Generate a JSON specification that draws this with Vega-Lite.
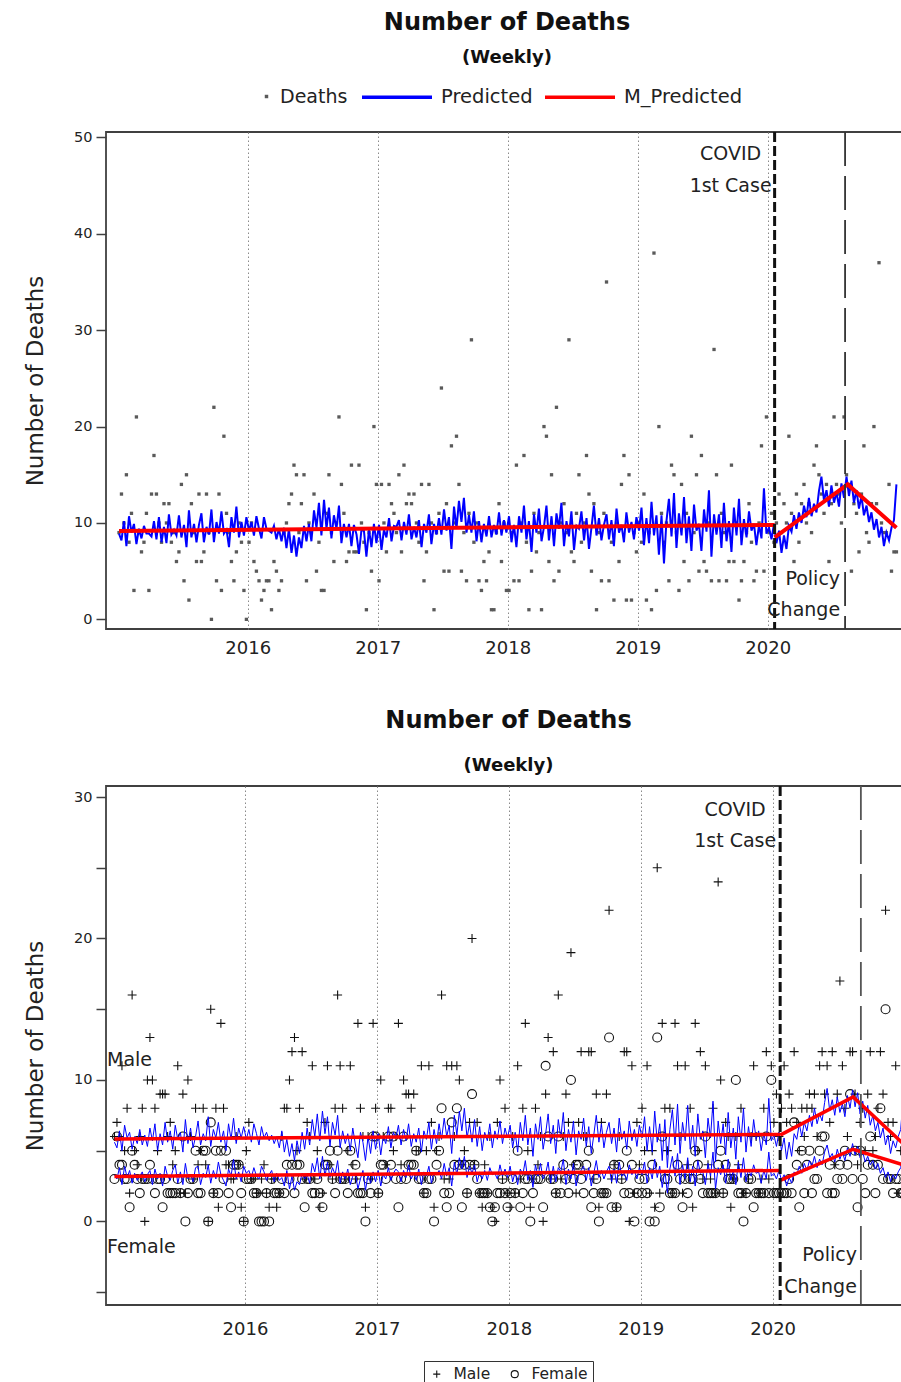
{
"$schema":"https://vega.github.io/schema/vega-lite/v6.json",
"padding":{"left":23,"top":10,"right":0,"bottom":0},
"background":"white",
"spacing":49,
"config":{"font":"DejaVu Sans","view":{"stroke":"#404040","strokeWidth":1.8},"axis":{"domain":false,"labelColor":"#222","titleColor":"#222","tickColor":"#404040"}},
"datasets":{
"w":[
{"t":2015.010,"d":9,"Male":6,"Female":3,"p":8.9,"pm":5.6,"pf":3.3},
{"t":2015.029,"d":13,"Male":7,"Female":6,"p":8.2,"pm":5.2,"pf":3.0},
{"t":2015.048,"d":10,"Male":6,"Female":4,"p":10.2,"pm":6.4,"pf":3.8},
{"t":2015.067,"d":15,"Male":11,"Female":4,"p":7.6,"pm":5.0,"pf":2.6},
{"t":2015.087,"d":8,"Male":5,"Female":3,"p":10.7,"pm":6.8,"pf":3.9},
{"t":2015.106,"d":11,"Male":8,"Female":3,"p":9.0,"pm":5.9,"pf":3.1},
{"t":2015.125,"d":3,"Male":2,"Female":1,"p":9.9,"pm":6.3,"pf":3.6},
{"t":2015.144,"d":21,"Male":16,"Female":5,"p":7.8,"pm":5.1,"pf":2.7},
{"t":2015.163,"d":9,"Male":5,"Female":4,"p":9.4,"pm":6.0,"pf":3.4},
{"t":2015.183,"d":7,"Male":4,"Female":3,"p":8.4,"pm":5.5,"pf":2.9},
{"t":2015.202,"d":8,"Male":6,"Female":2,"p":9.7,"pm":6.5,"pf":3.2},
{"t":2015.221,"d":11,"Male":8,"Female":3,"p":8.9,"pm":5.4,"pf":3.5},
{"t":2015.240,"d":3,"Male":0,"Female":3,"p":8.9,"pm":6.1,"pf":2.8},
{"t":2015.260,"d":13,"Male":10,"Female":3,"p":8.6,"pm":5.3,"pf":3.3},
{"t":2015.279,"d":17,"Male":13,"Female":4,"p":10.2,"pm":6.6,"pf":3.6},
{"t":2015.298,"d":13,"Male":10,"Female":3,"p":8.3,"pm":5.7,"pf":2.6},
{"t":2015.317,"d":10,"Male":8,"Female":2,"p":10.6,"pm":6.9,"pf":3.7},
{"t":2015.337,"d":8,"Male":5,"Female":3,"p":8.0,"pm":5.0,"pf":3.0},
{"t":2015.356,"d":12,"Male":9,"Female":3,"p":9.6,"pm":6.2,"pf":3.4},
{"t":2015.375,"d":10,"Male":9,"Female":1,"p":7.9,"pm":5.4,"pf":2.5},
{"t":2015.394,"d":12,"Male":9,"Female":3,"p":10.9,"pm":7.0,"pf":3.9},
{"t":2015.413,"d":8,"Male":6,"Female":2,"p":8.8,"pm":5.6,"pf":3.2},
{"t":2015.433,"d":9,"Male":7,"Female":2,"p":9.3,"pm":6.4,"pf":2.9},
{"t":2015.452,"d":6,"Male":4,"Female":2,"p":8.7,"pm":5.1,"pf":3.6},
{"t":2015.471,"d":7,"Male":5,"Female":2,"p":10.8,"pm":6.8,"pf":4.0},
{"t":2015.490,"d":14,"Male":11,"Female":3,"p":8.5,"pm":5.8,"pf":2.7},
{"t":2015.510,"d":4,"Male":2,"Female":2,"p":9.8,"pm":6.3,"pf":3.5},
{"t":2015.529,"d":15,"Male":9,"Female":6,"p":7.5,"pm":4.9,"pf":2.6},
{"t":2015.548,"d":2,"Male":2,"Female":0,"p":11.3,"pm":7.2,"pf":4.1},
{"t":2015.567,"d":12,"Male":10,"Female":2,"p":8.5,"pm":5.5,"pf":3.0},
{"t":2015.587,"d":9,"Male":6,"Female":3,"p":9.9,"pm":6.6,"pf":3.3},
{"t":2015.606,"d":6,"Male":3,"Female":3,"p":8.0,"pm":5.2,"pf":2.8},
{"t":2015.625,"d":13,"Male":8,"Female":5,"p":9.8,"pm":6.0,"pf":3.8},
{"t":2015.644,"d":6,"Male":4,"Female":2,"p":11.0,"pm":7.1,"pf":3.9},
{"t":2015.663,"d":7,"Male":5,"Female":2,"p":8.0,"pm":5.4,"pf":2.6},
{"t":2015.683,"d":13,"Male":8,"Female":5,"p":9.6,"pm":6.2,"pf":3.4},
{"t":2015.702,"d":9,"Male":4,"Female":5,"p":8.8,"pm":5.7,"pf":3.1},
{"t":2015.721,"d":0,"Male":0,"Female":0,"p":11.4,"pm":7.4,"pf":4.0},
{"t":2015.740,"d":22,"Male":15,"Female":7,"p":8.0,"pm":5.3,"pf":2.7},
{"t":2015.760,"d":4,"Male":2,"Female":2,"p":10.1,"pm":6.5,"pf":3.6},
{"t":2015.779,"d":13,"Male":8,"Female":5,"p":8.9,"pm":5.9,"pf":3.0},
{"t":2015.798,"d":3,"Male":1,"Female":2,"p":11.2,"pm":7.0,"pf":4.2},
{"t":2015.817,"d":19,"Male":14,"Female":5,"p":8.9,"pm":5.6,"pf":3.3},
{"t":2015.837,"d":11,"Male":8,"Female":3,"p":9.3,"pm":6.4,"pf":2.9},
{"t":2015.856,"d":9,"Male":4,"Female":5,"p":7.5,"pm":5.0,"pf":2.5},
{"t":2015.875,"d":6,"Male":4,"Female":2,"p":10.6,"pm":6.9,"pf":3.7},
{"t":2015.894,"d":4,"Male":3,"Female":1,"p":9.0,"pm":5.8,"pf":3.2},
{"t":2015.913,"d":7,"Male":3,"Female":4,"p":11.7,"pm":7.3,"pf":4.4},
{"t":2015.933,"d":10,"Male":6,"Female":4,"p":8.5,"pm":5.5,"pf":3.0},
{"t":2015.952,"d":8,"Male":4,"Female":4,"p":10.1,"pm":6.6,"pf":3.5},
{"t":2015.971,"d":3,"Male":1,"Female":2,"p":8.7,"pm":5.9,"pf":2.8},
{"t":2015.990,"d":0,"Male":0,"Female":0,"p":10.6,"pm":6.7,"pf":3.9},
{"t":2016.010,"d":8,"Male":5,"Female":3,"p":9.2,"pm":5.8,"pf":3.4},
{"t":2016.029,"d":10,"Male":7,"Female":3,"p":10.1,"pm":6.5,"pf":3.6},
{"t":2016.048,"d":6,"Male":3,"Female":3,"p":8.7,"pm":5.6,"pf":3.1},
{"t":2016.067,"d":5,"Male":3,"Female":2,"p":10.7,"pm":6.9,"pf":3.8},
{"t":2016.087,"d":4,"Male":2,"Female":2,"p":9.4,"pm":6.2,"pf":3.2},
{"t":2016.106,"d":2,"Male":2,"Female":0,"p":8.4,"pm":5.4,"pf":3.0},
{"t":2016.125,"d":3,"Male":3,"Female":0,"p":10.6,"pm":6.7,"pf":3.9},
{"t":2016.144,"d":4,"Male":4,"Female":0,"p":9.4,"pm":5.9,"pf":3.5},
{"t":2016.163,"d":4,"Male":2,"Female":2,"p":9.2,"pm":6.3,"pf":2.9},
{"t":2016.183,"d":1,"Male":1,"Female":0,"p":9.0,"pm":5.7,"pf":3.3},
{"t":2016.202,"d":6,"Male":3,"Female":3,"p":9.7,"pm":6.1,"pf":3.6},
{"t":2016.221,"d":5,"Male":3,"Female":2,"p":8.3,"pm":5.5,"pf":2.8},
{"t":2016.240,"d":3,"Male":1,"Female":2,"p":9.4,"pm":6.0,"pf":3.4},
{"t":2016.260,"d":4,"Male":2,"Female":2,"p":8.1,"pm":5.2,"pf":2.9},
{"t":2016.279,"d":9,"Male":6,"Female":3,"p":9.5,"pm":6.4,"pf":3.1},
{"t":2016.298,"d":10,"Male":8,"Female":2,"p":7.4,"pm":4.9,"pf":2.5},
{"t":2016.317,"d":12,"Male":8,"Female":4,"p":9.4,"pm":5.8,"pf":3.6},
{"t":2016.337,"d":13,"Male":10,"Female":3,"p":6.9,"pm":4.6,"pf":2.3},
{"t":2016.356,"d":16,"Male":12,"Female":4,"p":8.7,"pm":5.5,"pf":3.2},
{"t":2016.375,"d":15,"Male":13,"Female":2,"p":6.5,"pm":4.3,"pf":2.2},
{"t":2016.394,"d":9,"Male":5,"Female":4,"p":8.5,"pm":5.7,"pf":2.8},
{"t":2016.413,"d":12,"Male":8,"Female":4,"p":7.4,"pm":4.8,"pf":2.6},
{"t":2016.433,"d":15,"Male":12,"Female":3,"p":9.7,"pm":6.3,"pf":3.4},
{"t":2016.452,"d":4,"Male":3,"Female":1,"p":8.1,"pm":5.1,"pf":3.0},
{"t":2016.471,"d":10,"Male":7,"Female":3,"p":9.9,"pm":6.6,"pf":3.3},
{"t":2016.490,"d":9,"Male":6,"Female":3,"p":8.1,"pm":5.4,"pf":2.7},
{"t":2016.510,"d":13,"Male":11,"Female":2,"p":11.3,"pm":7.2,"pf":4.1},
{"t":2016.529,"d":5,"Male":3,"Female":2,"p":9.5,"pm":6.0,"pf":3.5},
{"t":2016.548,"d":8,"Male":5,"Female":3,"p":12.1,"pm":7.6,"pf":4.5},
{"t":2016.567,"d":3,"Male":1,"Female":2,"p":8.7,"pm":5.7,"pf":3.0},
{"t":2016.587,"d":3,"Male":2,"Female":1,"p":12.4,"pm":7.8,"pf":4.6},
{"t":2016.606,"d":11,"Male":7,"Female":4,"p":9.4,"pm":6.2,"pf":3.2},
{"t":2016.625,"d":15,"Male":11,"Female":4,"p":11.6,"pm":7.4,"pf":4.2},
{"t":2016.644,"d":9,"Male":4,"Female":5,"p":8.4,"pm":5.3,"pf":3.1},
{"t":2016.663,"d":6,"Male":3,"Female":3,"p":10.8,"pm":7.0,"pf":3.8},
{"t":2016.683,"d":10,"Male":8,"Female":2,"p":9.4,"pm":6.1,"pf":3.3},
{"t":2016.702,"d":21,"Male":16,"Female":5,"p":11.8,"pm":7.5,"pf":4.3},
{"t":2016.721,"d":14,"Male":11,"Female":3,"p":7.9,"pm":5.2,"pf":2.7},
{"t":2016.740,"d":11,"Male":8,"Female":3,"p":9.9,"pm":6.4,"pf":3.5},
{"t":2016.760,"d":6,"Male":3,"Female":3,"p":8.5,"pm":5.5,"pf":3.0},
{"t":2016.779,"d":7,"Male":5,"Female":2,"p":9.9,"pm":6.2,"pf":3.7},
{"t":2016.798,"d":16,"Male":11,"Female":5,"p":7.6,"pm":5.0,"pf":2.6},
{"t":2016.817,"d":7,"Male":4,"Female":3,"p":9.8,"pm":6.6,"pf":3.2},
{"t":2016.837,"d":7,"Male":3,"Female":4,"p":8.8,"pm":5.4,"pf":3.4},
{"t":2016.856,"d":16,"Male":14,"Female":2,"p":6.8,"pm":4.5,"pf":2.3},
{"t":2016.875,"d":10,"Male":8,"Female":2,"p":9.3,"pm":6.3,"pf":3.0},
{"t":2016.894,"d":8,"Male":6,"Female":2,"p":9.2,"pm":5.6,"pf":3.6},
{"t":2016.913,"d":1,"Male":1,"Female":0,"p":6.5,"pm":4.3,"pf":2.2},
{"t":2016.933,"d":9,"Male":6,"Female":3,"p":9.3,"pm":6.0,"pf":3.3},
{"t":2016.952,"d":5,"Male":3,"Female":2,"p":7.5,"pm":4.8,"pf":2.7},
{"t":2016.971,"d":20,"Male":14,"Female":6,"p":9.9,"pm":6.4,"pf":3.5},
{"t":2016.990,"d":14,"Male":8,"Female":6,"p":7.9,"pm":5.1,"pf":2.8},
{"t":2017.010,"d":4,"Male":2,"Female":2,"p":9.8,"pm":6.2,"pf":3.6},
{"t":2017.029,"d":14,"Male":10,"Female":4,"p":7.2,"pm":4.7,"pf":2.5},
{"t":2017.048,"d":10,"Male":6,"Female":4,"p":9.3,"pm":6.0,"pf":3.3},
{"t":2017.067,"d":7,"Male":4,"Female":3,"p":8.5,"pm":5.5,"pf":3.0},
{"t":2017.087,"d":14,"Male":8,"Female":6,"p":10.5,"pm":6.7,"pf":3.8},
{"t":2017.106,"d":12,"Male":8,"Female":4,"p":8.1,"pm":5.2,"pf":2.9},
{"t":2017.125,"d":11,"Male":5,"Female":6,"p":9.7,"pm":6.3,"pf":3.4},
{"t":2017.144,"d":9,"Male":6,"Female":3,"p":9.6,"pm":5.9,"pf":3.7},
{"t":2017.163,"d":15,"Male":14,"Female":1,"p":10.3,"pm":6.8,"pf":3.5},
{"t":2017.183,"d":7,"Male":4,"Female":3,"p":8.2,"pm":5.4,"pf":2.8},
{"t":2017.202,"d":16,"Male":10,"Female":6,"p":10.1,"pm":6.5,"pf":3.6},
{"t":2017.221,"d":12,"Male":9,"Female":3,"p":8.8,"pm":5.7,"pf":3.1},
{"t":2017.240,"d":13,"Male":9,"Female":4,"p":10.9,"pm":6.9,"pf":4.0},
{"t":2017.260,"d":12,"Male":8,"Female":4,"p":8.3,"pm":5.3,"pf":3.0},
{"t":2017.279,"d":13,"Male":9,"Female":4,"p":9.6,"pm":6.2,"pf":3.4},
{"t":2017.298,"d":10,"Male":5,"Female":5,"p":8.5,"pm":5.6,"pf":2.9},
{"t":2017.317,"d":8,"Male":5,"Female":3,"p":10.3,"pm":6.6,"pf":3.7},
{"t":2017.337,"d":14,"Male":11,"Female":3,"p":7.5,"pm":4.9,"pf":2.6},
{"t":2017.356,"d":4,"Male":2,"Female":2,"p":9.9,"pm":6.4,"pf":3.5},
{"t":2017.375,"d":7,"Male":5,"Female":2,"p":9.0,"pm":5.8,"pf":3.2},
{"t":2017.394,"d":14,"Male":11,"Female":3,"p":10.9,"pm":7.0,"pf":3.9},
{"t":2017.413,"d":10,"Male":7,"Female":3,"p":7.8,"pm":5.1,"pf":2.7},
{"t":2017.433,"d":1,"Male":1,"Female":0,"p":9.9,"pm":6.5,"pf":3.4},
{"t":2017.452,"d":9,"Male":5,"Female":4,"p":8.8,"pm":5.5,"pf":3.3},
{"t":2017.471,"d":11,"Male":6,"Female":5,"p":10.5,"pm":6.9,"pf":3.6},
{"t":2017.490,"d":24,"Male":16,"Female":8,"p":8.8,"pm":5.8,"pf":3.0},
{"t":2017.510,"d":5,"Male":3,"Female":2,"p":11.4,"pm":7.3,"pf":4.1},
{"t":2017.529,"d":12,"Male":11,"Female":1,"p":9.2,"pm":6.0,"pf":3.2},
{"t":2017.548,"d":5,"Male":3,"Female":2,"p":10.6,"pm":6.8,"pf":3.8},
{"t":2017.567,"d":18,"Male":11,"Female":7,"p":7.3,"pm":4.8,"pf":2.5},
{"t":2017.587,"d":10,"Male":6,"Female":4,"p":11.7,"pm":7.5,"pf":4.2},
{"t":2017.606,"d":19,"Male":11,"Female":8,"p":9.4,"pm":6.1,"pf":3.3},
{"t":2017.625,"d":14,"Male":10,"Female":4,"p":12.3,"pm":7.8,"pf":4.5},
{"t":2017.644,"d":5,"Male":4,"Female":1,"p":10.1,"pm":6.4,"pf":3.7},
{"t":2017.663,"d":9,"Male":5,"Female":4,"p":12.6,"pm":8.0,"pf":4.6},
{"t":2017.683,"d":4,"Male":2,"Female":2,"p":9.0,"pm":5.9,"pf":3.1},
{"t":2017.702,"d":11,"Male":7,"Female":4,"p":10.8,"pm":6.9,"pf":3.9},
{"t":2017.721,"d":29,"Male":20,"Female":9,"p":9.0,"pm":5.6,"pf":3.4},
{"t":2017.740,"d":8,"Male":4,"Female":4,"p":11.2,"pm":7.2,"pf":4.0},
{"t":2017.760,"d":10,"Male":7,"Female":3,"p":8.1,"pm":5.3,"pf":2.8},
{"t":2017.779,"d":4,"Male":2,"Female":2,"p":10.2,"pm":6.7,"pf":3.5},
{"t":2017.798,"d":3,"Male":1,"Female":2,"p":8.0,"pm":5.0,"pf":3.0},
{"t":2017.817,"d":6,"Male":4,"Female":2,"p":9.9,"pm":6.3,"pf":3.6},
{"t":2017.837,"d":4,"Male":2,"Female":2,"p":8.6,"pm":5.7,"pf":2.9},
{"t":2017.856,"d":7,"Male":6,"Female":1,"p":10.7,"pm":6.9,"pf":3.8},
{"t":2017.875,"d":1,"Male":1,"Female":0,"p":8.5,"pm":5.2,"pf":3.3},
{"t":2017.894,"d":1,"Male":0,"Female":1,"p":9.8,"pm":6.4,"pf":3.4},
{"t":2017.913,"d":9,"Male":7,"Female":2,"p":8.8,"pm":5.8,"pf":3.0},
{"t":2017.933,"d":12,"Male":10,"Female":2,"p":11.1,"pm":7.1,"pf":4.0},
{"t":2017.952,"d":6,"Male":3,"Female":3,"p":8.7,"pm":5.5,"pf":3.2},
{"t":2017.971,"d":10,"Male":8,"Female":2,"p":10.3,"pm":6.6,"pf":3.7},
{"t":2017.990,"d":3,"Male":2,"Female":1,"p":9.0,"pm":5.9,"pf":3.1},
{"t":2018.010,"d":3,"Male":1,"Female":2,"p":10.7,"pm":6.8,"pf":3.9},
{"t":2018.029,"d":9,"Male":6,"Female":3,"p":8.0,"pm":5.2,"pf":2.8},
{"t":2018.048,"d":4,"Male":2,"Female":2,"p":9.8,"pm":6.3,"pf":3.5},
{"t":2018.067,"d":16,"Male":11,"Female":5,"p":7.5,"pm":4.9,"pf":2.6},
{"t":2018.087,"d":4,"Male":3,"Female":1,"p":10.7,"pm":7.0,"pf":3.7},
{"t":2018.106,"d":10,"Male":8,"Female":2,"p":9.0,"pm":5.7,"pf":3.3},
{"t":2018.125,"d":17,"Male":14,"Female":3,"p":11.8,"pm":7.5,"pf":4.3},
{"t":2018.144,"d":8,"Male":5,"Female":3,"p":8.3,"pm":5.4,"pf":2.9},
{"t":2018.163,"d":1,"Male":1,"Female":0,"p":10.2,"pm":6.6,"pf":3.6},
{"t":2018.183,"d":5,"Male":3,"Female":2,"p":7.0,"pm":4.6,"pf":2.4},
{"t":2018.202,"d":11,"Male":8,"Female":3,"p":10.9,"pm":6.9,"pf":4.0},
{"t":2018.221,"d":7,"Male":4,"Female":3,"p":9.0,"pm":5.8,"pf":3.2},
{"t":2018.240,"d":9,"Male":6,"Female":3,"p":11.5,"pm":7.4,"pf":4.1},
{"t":2018.260,"d":1,"Male":0,"Female":1,"p":8.1,"pm":5.1,"pf":3.0},
{"t":2018.279,"d":20,"Male":9,"Female":11,"p":9.6,"pm":6.2,"pf":3.4},
{"t":2018.298,"d":19,"Male":13,"Female":6,"p":11.8,"pm":7.6,"pf":4.2},
{"t":2018.317,"d":6,"Male":3,"Female":3,"p":8.2,"pm":5.5,"pf":2.7},
{"t":2018.337,"d":15,"Male":12,"Female":3,"p":10.7,"pm":6.8,"pf":3.9},
{"t":2018.356,"d":4,"Male":2,"Female":2,"p":7.6,"pm":4.8,"pf":2.8},
{"t":2018.375,"d":22,"Male":16,"Female":6,"p":11.0,"pm":7.2,"pf":3.8},
{"t":2018.394,"d":5,"Male":3,"Female":2,"p":9.4,"pm":5.9,"pf":3.5},
{"t":2018.413,"d":10,"Male":6,"Female":4,"p":12.1,"pm":7.7,"pf":4.4},
{"t":2018.433,"d":12,"Male":9,"Female":3,"p":7.6,"pm":5.0,"pf":2.6},
{"t":2018.452,"d":9,"Male":7,"Female":2,"p":10.2,"pm":6.5,"pf":3.7},
{"t":2018.471,"d":29,"Male":19,"Female":10,"p":8.6,"pm":5.6,"pf":3.0},
{"t":2018.490,"d":7,"Male":4,"Female":3,"p":11.2,"pm":7.1,"pf":4.1},
{"t":2018.510,"d":6,"Male":2,"Female":4,"p":7.2,"pm":4.7,"pf":2.5},
{"t":2018.529,"d":11,"Male":7,"Female":4,"p":9.7,"pm":6.4,"pf":3.3},
{"t":2018.548,"d":15,"Male":12,"Female":3,"p":9.4,"pm":5.8,"pf":3.6},
{"t":2018.567,"d":8,"Male":6,"Female":2,"p":11.2,"pm":7.3,"pf":3.9},
{"t":2018.587,"d":10,"Male":6,"Female":4,"p":8.2,"pm":5.3,"pf":2.9},
{"t":2018.606,"d":17,"Male":12,"Female":5,"p":10.5,"pm":6.7,"pf":3.8},
{"t":2018.625,"d":13,"Male":12,"Female":1,"p":7.3,"pm":4.8,"pf":2.5},
{"t":2018.644,"d":5,"Male":3,"Female":2,"p":9.5,"pm":6.1,"pf":3.4},
{"t":2018.663,"d":12,"Male":9,"Female":3,"p":11.8,"pm":7.5,"pf":4.3},
{"t":2018.683,"d":1,"Male":1,"Female":0,"p":8.7,"pm":5.6,"pf":3.1},
{"t":2018.702,"d":9,"Male":7,"Female":2,"p":10.5,"pm":6.9,"pf":3.6},
{"t":2018.721,"d":4,"Male":2,"Female":2,"p":8.2,"pm":5.2,"pf":3.0},
{"t":2018.740,"d":11,"Male":9,"Female":2,"p":9.8,"pm":6.3,"pf":3.5},
{"t":2018.760,"d":35,"Male":22,"Female":13,"p":10.9,"pm":7.0,"pf":3.9},
{"t":2018.779,"d":4,"Male":3,"Female":1,"p":8.3,"pm":5.5,"pf":2.8},
{"t":2018.798,"d":8,"Male":4,"Female":4,"p":10.3,"pm":6.6,"pf":3.7},
{"t":2018.817,"d":2,"Male":1,"Female":1,"p":7.6,"pm":4.9,"pf":2.7},
{"t":2018.837,"d":10,"Male":6,"Female":4,"p":11.5,"pm":7.3,"pf":4.2},
{"t":2018.856,"d":6,"Male":3,"Female":3,"p":9.0,"pm":5.8,"pf":3.2},
{"t":2018.875,"d":14,"Male":12,"Female":2,"p":9.8,"pm":6.4,"pf":3.4},
{"t":2018.894,"d":17,"Male":12,"Female":5,"p":8.0,"pm":5.1,"pf":2.9},
{"t":2018.913,"d":2,"Male":0,"Female":2,"p":11.1,"pm":7.1,"pf":4.0},
{"t":2018.933,"d":15,"Male":11,"Female":4,"p":9.0,"pm":5.7,"pf":3.3},
{"t":2018.952,"d":2,"Male":2,"Female":0,"p":10.1,"pm":6.5,"pf":3.6},
{"t":2018.971,"d":9,"Male":7,"Female":2,"p":8.3,"pm":5.3,"pf":3.0},
{"t":2018.990,"d":7,"Male":4,"Female":3,"p":10.6,"pm":6.8,"pf":3.8},
{"t":2019.010,"d":10,"Male":8,"Female":2,"p":9.2,"pm":5.9,"pf":3.3},
{"t":2019.029,"d":8,"Male":5,"Female":3,"p":11.6,"pm":7.4,"pf":4.2},
{"t":2019.048,"d":13,"Male":11,"Female":2,"p":7.7,"pm":5.0,"pf":2.7},
{"t":2019.067,"d":2,"Male":2,"Female":0,"p":10.5,"pm":6.7,"pf":3.8},
{"t":2019.087,"d":9,"Male":5,"Female":4,"p":7.9,"pm":4.9,"pf":3.0},
{"t":2019.106,"d":1,"Male":1,"Female":0,"p":12.2,"pm":7.8,"pf":4.4},
{"t":2019.125,"d":38,"Male":25,"Female":13,"p":8.7,"pm":5.6,"pf":3.1},
{"t":2019.144,"d":3,"Male":2,"Female":1,"p":10.8,"pm":6.9,"pf":3.9},
{"t":2019.163,"d":20,"Male":14,"Female":6,"p":6.7,"pm":4.3,"pf":2.4},
{"t":2019.183,"d":11,"Male":8,"Female":3,"p":10.8,"pm":7.2,"pf":3.6},
{"t":2019.202,"d":8,"Male":5,"Female":3,"p":5.8,"pm":3.8,"pf":2.0},
{"t":2019.221,"d":10,"Male":8,"Female":2,"p":10.2,"pm":6.5,"pf":3.7},
{"t":2019.240,"d":4,"Male":2,"Female":2,"p":12.5,"pm":7.9,"pf":4.6},
{"t":2019.260,"d":16,"Male":14,"Female":2,"p":8.6,"pm":5.4,"pf":3.2},
{"t":2019.279,"d":15,"Male":11,"Female":4,"p":13.1,"pm":8.3,"pf":4.8},
{"t":2019.298,"d":9,"Male":6,"Female":3,"p":7.4,"pm":4.8,"pf":2.6},
{"t":2019.317,"d":3,"Male":2,"Female":1,"p":11.0,"pm":7.0,"pf":4.0},
{"t":2019.337,"d":14,"Male":11,"Female":3,"p":8.7,"pm":5.7,"pf":3.0},
{"t":2019.356,"d":6,"Male":4,"Female":2,"p":12.7,"pm":8.2,"pf":4.5},
{"t":2019.375,"d":11,"Male":8,"Female":3,"p":7.9,"pm":5.1,"pf":2.8},
{"t":2019.394,"d":4,"Male":1,"Female":3,"p":10.7,"pm":6.8,"pf":3.9},
{"t":2019.413,"d":19,"Male":14,"Female":5,"p":7.1,"pm":4.6,"pf":2.5},
{"t":2019.433,"d":9,"Male":5,"Female":4,"p":11.9,"pm":7.6,"pf":4.3},
{"t":2019.452,"d":15,"Male":12,"Female":3,"p":9.2,"pm":5.8,"pf":3.4},
{"t":2019.471,"d":5,"Male":3,"Female":2,"p":9.9,"pm":6.4,"pf":3.5},
{"t":2019.490,"d":17,"Male":11,"Female":6,"p":7.1,"pm":4.5,"pf":2.6},
{"t":2019.510,"d":6,"Male":4,"Female":2,"p":11.4,"pm":7.3,"pf":4.1},
{"t":2019.529,"d":5,"Male":3,"Female":2,"p":9.1,"pm":5.9,"pf":3.2},
{"t":2019.548,"d":10,"Male":8,"Female":2,"p":13.4,"pm":8.5,"pf":4.9},
{"t":2019.567,"d":4,"Male":2,"Female":2,"p":6.5,"pm":4.2,"pf":2.3},
{"t":2019.587,"d":28,"Male":24,"Female":4,"p":10.9,"pm":7.1,"pf":3.8},
{"t":2019.606,"d":15,"Male":10,"Female":5,"p":8.8,"pm":5.5,"pf":3.3},
{"t":2019.625,"d":4,"Male":2,"Female":2,"p":10.9,"pm":6.9,"pf":4.0},
{"t":2019.644,"d":11,"Male":7,"Female":4,"p":7.4,"pm":4.7,"pf":2.7},
{"t":2019.663,"d":9,"Male":6,"Female":3,"p":12.1,"pm":7.7,"pf":4.4},
{"t":2019.683,"d":4,"Male":1,"Female":3,"p":8.1,"pm":5.2,"pf":2.9},
{"t":2019.702,"d":6,"Male":3,"Female":3,"p":10.2,"pm":6.6,"pf":3.6},
{"t":2019.721,"d":16,"Male":6,"Female":10,"p":7.0,"pm":4.4,"pf":2.6},
{"t":2019.740,"d":6,"Male":4,"Female":2,"p":11.6,"pm":7.4,"pf":4.2},
{"t":2019.760,"d":10,"Male":8,"Female":2,"p":8.7,"pm":5.6,"pf":3.1},
{"t":2019.779,"d":2,"Male":2,"Female":0,"p":12.5,"pm":8.0,"pf":4.5},
{"t":2019.798,"d":4,"Male":2,"Female":2,"p":7.7,"pm":4.9,"pf":2.8},
{"t":2019.817,"d":6,"Male":3,"Female":3,"p":10.4,"pm":6.7,"pf":3.7},
{"t":2019.837,"d":9,"Male":6,"Female":3,"p":8.5,"pm":5.3,"pf":3.2},
{"t":2019.856,"d":12,"Male":11,"Female":1,"p":11.2,"pm":7.2,"pf":4.0},
{"t":2019.875,"d":8,"Male":6,"Female":2,"p":9.2,"pm":5.8,"pf":3.4},
{"t":2019.894,"d":4,"Male":2,"Female":2,"p":9.9,"pm":6.4,"pf":3.5},
{"t":2019.913,"d":5,"Male":3,"Female":2,"p":7.7,"pm":5.0,"pf":2.7},
{"t":2019.933,"d":10,"Male":8,"Female":2,"p":9.8,"pm":6.2,"pf":3.6},
{"t":2019.952,"d":18,"Male":12,"Female":6,"p":8.4,"pm":5.4,"pf":3.0},
{"t":2019.971,"d":5,"Male":3,"Female":2,"p":13.6,"pm":8.7,"pf":4.9},
{"t":2019.990,"d":21,"Male":11,"Female":10,"p":8.9,"pm":5.7,"pf":3.2},
{"t":2020.010,"d":9,"Male":7,"Female":2,"p":9.5,"pm":6.1,"pf":3.4},
{"t":2020.029,"d":11,"Male":9,"Female":2,"p":8.3,"pm":5.3,"pf":3.0},
{"t":2020.048,"d":8,"Male":6,"Female":2,"p":9.9,"pm":6.3,"pf":3.6},
{"t":2020.067,"d":10,"Male":8,"Female":2,"p":7.9,"pm":5.0,"pf":2.9},
{"t":2020.087,"d":13,"Male":11,"Female":2,"p":9.2,"pm":5.9,"pf":3.3},
{"t":2020.106,"d":9,"Male":7,"Female":2,"p":6.9,"pm":4.4,"pf":2.5},
{"t":2020.125,"d":12,"Male":9,"Female":3,"p":8.7,"pm":5.6,"pf":3.1},
{"t":2020.144,"d":10,"Male":8,"Female":2,"p":7.3,"pm":4.6,"pf":2.7},
{"t":2020.163,"d":19,"Male":12,"Female":7,"p":9.7,"pm":6.2,"pf":3.5},
{"t":2020.183,"d":11,"Male":7,"Female":4,"p":9.1,"pm":5.8,"pf":3.3},
{"t":2020.202,"d":6,"Male":5,"Female":1,"p":10.8,"pm":6.9,"pf":3.9},
{"t":2020.221,"d":13,"Male":8,"Female":5,"p":9.4,"pm":6.0,"pf":3.4},
{"t":2020.240,"d":8,"Male":6,"Female":2,"p":11.1,"pm":7.0,"pf":4.1},
{"t":2020.260,"d":12,"Male":8,"Female":4,"p":10.0,"pm":6.4,"pf":3.6},
{"t":2020.279,"d":14,"Male":9,"Female":5,"p":11.8,"pm":7.5,"pf":4.3},
{"t":2020.298,"d":10,"Male":8,"Female":2,"p":10.6,"pm":6.7,"pf":3.9},
{"t":2020.317,"d":12,"Male":9,"Female":3,"p":12.6,"pm":8.0,"pf":4.6},
{"t":2020.337,"d":9,"Male":6,"Female":3,"p":10.7,"pm":6.9,"pf":3.8},
{"t":2020.356,"d":16,"Male":11,"Female":5,"p":12.0,"pm":7.6,"pf":4.4},
{"t":2020.375,"d":18,"Male":12,"Female":6,"p":11.1,"pm":7.1,"pf":4.0},
{"t":2020.394,"d":15,"Male":9,"Female":6,"p":13.3,"pm":8.4,"pf":4.9},
{"t":2020.413,"d":13,"Male":11,"Female":2,"p":14.8,"pm":9.4,"pf":5.4},
{"t":2020.433,"d":11,"Male":7,"Female":4,"p":12.3,"pm":7.8,"pf":4.5},
{"t":2020.452,"d":14,"Male":12,"Female":2,"p":13.4,"pm":8.6,"pf":4.8},
{"t":2020.471,"d":6,"Male":4,"Female":2,"p":11.7,"pm":7.5,"pf":4.2},
{"t":2020.490,"d":12,"Male":9,"Female":3,"p":13.9,"pm":8.8,"pf":5.1},
{"t":2020.510,"d":21,"Male":17,"Female":4,"p":12.1,"pm":7.7,"pf":4.4},
{"t":2020.529,"d":14,"Male":11,"Female":3,"p":13.2,"pm":8.3,"pf":4.9},
{"t":2020.548,"d":13,"Male":8,"Female":5,"p":11.7,"pm":7.4,"pf":4.3},
{"t":2020.567,"d":10,"Male":6,"Female":4,"p":14.1,"pm":8.9,"pf":5.2},
{"t":2020.587,"d":21,"Male":12,"Female":9,"p":12.6,"pm":8.0,"pf":4.6},
{"t":2020.606,"d":15,"Male":12,"Female":3,"p":14.8,"pm":9.3,"pf":5.5},
{"t":2020.625,"d":14,"Male":9,"Female":5,"p":12.8,"pm":8.1,"pf":4.7},
{"t":2020.644,"d":5,"Male":4,"Female":1,"p":14.4,"pm":9.1,"pf":5.3},
{"t":2020.663,"d":12,"Male":7,"Female":5,"p":12.1,"pm":7.6,"pf":4.5},
{"t":2020.683,"d":11,"Male":8,"Female":3,"p":13.4,"pm":8.5,"pf":4.9},
{"t":2020.702,"d":7,"Male":5,"Female":2,"p":11.5,"pm":7.3,"pf":4.2},
{"t":2020.721,"d":13,"Male":9,"Female":4,"p":12.8,"pm":8.2,"pf":4.6},
{"t":2020.740,"d":18,"Male":12,"Female":6,"p":10.8,"pm":6.8,"pf":4.0},
{"t":2020.760,"d":9,"Male":5,"Female":4,"p":11.8,"pm":7.5,"pf":4.3},
{"t":2020.779,"d":8,"Male":6,"Female":2,"p":10.1,"pm":6.4,"pf":3.7},
{"t":2020.798,"d":12,"Male":8,"Female":4,"p":11.1,"pm":7.0,"pf":4.1},
{"t":2020.817,"d":20,"Male":12,"Female":8,"p":9.3,"pm":5.9,"pf":3.4},
{"t":2020.837,"d":12,"Male":9,"Female":3,"p":10.4,"pm":6.6,"pf":3.8},
{"t":2020.856,"d":37,"Male":22,"Female":15,"p":8.5,"pm":5.4,"pf":3.1},
{"t":2020.875,"d":10,"Male":7,"Female":3,"p":9.6,"pm":6.1,"pf":3.5},
{"t":2020.894,"d":9,"Male":6,"Female":3,"p":7.6,"pm":4.8,"pf":2.8},
{"t":2020.913,"d":9,"Male":7,"Female":2,"p":9.0,"pm":5.7,"pf":3.3},
{"t":2020.933,"d":14,"Male":11,"Female":3,"p":8.2,"pm":5.2,"pf":3.0},
{"t":2020.952,"d":5,"Male":2,"Female":3,"p":9.5,"pm":6.0,"pf":3.5},
{"t":2020.971,"d":7,"Male":5,"Female":2,"p":10.3,"pm":6.5,"pf":3.8},
{"t":2020.990,"d":7,"Male":5,"Female":2,"p":14.0,"pm":8.8,"pf":5.2}
],
"trendTop":[
{"t":2015.01,"v":9.17,"seg":"a"},{"t":2020.053,"v":9.8,"seg":"a"},
{"t":2020.053,"v":8.5,"seg":"b"},{"t":2020.615,"v":14.0,"seg":"b"},{"t":2020.99,"v":9.5,"seg":"b"}
],
"trendSex":[
{"t":2015.01,"v":5.83,"seg":"ma"},{"t":2020.057,"v":6.15,"seg":"ma"},
{"t":2020.057,"v":6.1,"seg":"mb"},{"t":2020.61,"v":8.8,"seg":"mb"},{"t":2020.99,"v":5.5,"seg":"mb"},
{"t":2015.01,"v":3.17,"seg":"fa"},{"t":2020.057,"v":3.6,"seg":"fa"},
{"t":2020.057,"v":2.9,"seg":"fb"},{"t":2020.61,"v":5.1,"seg":"fb"},{"t":2020.99,"v":4.0,"seg":"fb"}
]
},
"vconcat":[
{
"width":802,"height":497,
"title":{"text":"Number of Deaths","subtitle":"(Weekly)","fontSize":24,"fontWeight":"bold","subtitleFontSize":18,"subtitleFontWeight":"bold","subtitlePadding":14,"frame":"group","anchor":"middle","offset":62,"color":"#111","subtitleColor":"#111"},
"layer":[
{"data":{"name":"w"},"mark":{"type":"point","shape":"square","filled":true,"size":11,"opacity":1},
"encoding":{
"x":{"field":"t","type":"quantitative","scale":{"domain":[2014.910,2021.079],"nice":false,"zero":false},"axis":{"values":[2016,2017,2018,2019,2020],"format":"d","title":null,"grid":true,"gridDash":[1.5,2.5],"gridColor":"#8a8a8a","gridWidth":1,"ticks":false,"labelFontSize":18,"labelPadding":10}},
"y":{"field":"d","type":"quantitative","scale":{"domain":[-1.0,50.56],"nice":false,"zero":false},"axis":{"values":[0,10,20,30,40,50],"title":"Number of Deaths","titleFontSize":23,"titleFontWeight":"normal","titlePadding":26,"labelFontSize":14.5,"tickSize":10,"tickWidth":1.5,"grid":false,"labelPadding":4}},
"color":{"datum":"Deaths","scale":{"domain":["Deaths"],"range":["#5a5a5a"]},"legend":{"orient":"none","legendX":151,"legendY":-45,"title":null,"symbolType":"square","symbolSize":12,"labelFontSize":19,"labelOffset":4,"labelColor":"#222"}}
}},
{"data":{"name":"w"},"mark":{"type":"line","strokeWidth":2},
"encoding":{
"x":{"field":"t","type":"quantitative"},
"y":{"field":"p","type":"quantitative"},
"stroke":{"datum":"Predicted","scale":{"domain":["Predicted","M_Predicted"],"range":["#0000ff","#ff0000"]},"legend":{"orient":"none","legendX":254,"legendY":-72,"title":null,"direction":"horizontal","symbolType":"stroke","symbolSize":4900,"symbolStrokeWidth":3.5,"labelFontSize":19.5,"labelOffset":7,"columnPadding":5,"labelColor":"#222"}}
}},
{"data":{"name":"trendTop"},"mark":{"type":"line","strokeWidth":4},
"encoding":{
"x":{"field":"t","type":"quantitative"},
"y":{"field":"v","type":"quantitative"},
"detail":{"field":"seg"},
"stroke":{"datum":"M_Predicted"}
}},
{"data":{"values":[{}]},"mark":{"type":"rule","strokeDash":[10,4],"strokeWidth":3,"color":"#111"},"encoding":{"x":{"datum":2020.053,"type":"quantitative"}}},
{"data":{"values":[{}]},"mark":{"type":"rule","strokeDash":[34,10],"strokeWidth":1.8,"color":"#333"},"encoding":{"x":{"datum":2020.595,"type":"quantitative"}}},
{"data":{"values":[{}]},"mark":{"type":"text","text":"COVID","align":"center","baseline":"middle","dx":-44,"fontSize":19,"color":"#222"},"encoding":{"x":{"datum":2020.053,"type":"quantitative"},"y":{"datum":48.3,"type":"quantitative"}}},
{"data":{"values":[{}]},"mark":{"type":"text","text":"1st Case","align":"center","baseline":"middle","dx":-44,"fontSize":19,"color":"#222"},"encoding":{"x":{"datum":2020.053,"type":"quantitative"},"y":{"datum":45.0,"type":"quantitative"}}},
{"data":{"values":[{}]},"mark":{"type":"text","text":"Policy","align":"right","baseline":"middle","dx":-5,"fontSize":19,"color":"#222"},"encoding":{"x":{"datum":2020.595,"type":"quantitative"},"y":{"datum":4.2,"type":"quantitative"}}},
{"data":{"values":[{}]},"mark":{"type":"text","text":"Change","align":"right","baseline":"middle","dx":-5,"fontSize":19,"color":"#222"},"encoding":{"x":{"datum":2020.595,"type":"quantitative"},"y":{"datum":0.94,"type":"quantitative"}}}
]
},
{
"width":805,"height":519,
"title":{"text":"Number of Deaths","subtitle":"(Weekly)","fontSize":24,"fontWeight":"bold","subtitleFontSize":18,"subtitleFontWeight":"bold","subtitlePadding":24,"frame":"group","anchor":"middle","offset":10,"color":"#111","subtitleColor":"#111"},
"layer":[
{"data":{"name":"w"},"transform":[{"fold":["Male","Female"],"as":["sex","n"]}],
"mark":{"type":"point","filled":false,"size":80,"strokeWidth":1.1,"opacity":1,"color":"#111"},
"encoding":{
"x":{"field":"t","type":"quantitative","scale":{"domain":[2014.946,2021.049],"nice":false,"zero":false},"axis":{"values":[2016,2017,2018,2019,2020],"format":"d","title":null,"grid":true,"gridDash":[1.5,2.5],"gridColor":"#8a8a8a","gridWidth":1,"ticks":false,"labelFontSize":18,"labelPadding":15}},
"y":{"field":"n","type":"quantitative","scale":{"domain":[-5.91,30.78],"nice":false,"zero":false},"axis":{"values":[-5,0,5,10,15,20,25,30],"labelExpr":"datum.value % 10 == 0 ? datum.label : ''","title":"Number of Deaths","titleFontSize":23,"titleFontWeight":"normal","titlePadding":26,"labelFontSize":14.5,"tickSize":10,"tickWidth":1.5,"grid":false,"labelPadding":4}},
"shape":{"field":"sex","type":"nominal","scale":{"domain":["Male","Female"],"range":["M-1,0H1M0,-1V1","circle"]},"legend":{"orient":"none","legendX":318,"legendY":1229,"title":null,"direction":"horizontal","symbolSize":50,"symbolStrokeColor":"#111","symbolFillColor":"transparent","symbolStrokeWidth":1.1,"labelFontSize":15.5,"labelColor":"#222","strokeColor":"#333","padding":5,"columnPadding":16,"labelOffset":9}}
}},
{"data":{"name":"w"},"transform":[{"fold":["pm","pf"],"as":["grp","pv"]}],"mark":{"type":"line","strokeWidth":1,"color":"#0000ff"},
"encoding":{
"x":{"field":"t","type":"quantitative"},
"y":{"field":"pv","type":"quantitative"},
"detail":{"field":"grp"}
}},
{"data":{"name":"trendSex"},"mark":{"type":"line","strokeWidth":3.5,"color":"#ff0000"},
"encoding":{
"x":{"field":"t","type":"quantitative"},
"y":{"field":"v","type":"quantitative"},
"detail":{"field":"seg"}
}},
{"data":{"values":[{}]},"mark":{"type":"rule","strokeDash":[10,4],"strokeWidth":3,"color":"#111"},"encoding":{"x":{"datum":2020.057,"type":"quantitative"}}},
{"data":{"values":[{}]},"mark":{"type":"rule","strokeDash":[34,10],"strokeWidth":1.8,"color":"#555"},"encoding":{"x":{"datum":2020.669,"type":"quantitative"}}},
{"data":{"values":[{}]},"mark":{"type":"text","text":"COVID","align":"center","baseline":"middle","dx":-45,"fontSize":19,"color":"#222"},"encoding":{"x":{"datum":2020.057,"type":"quantitative"},"y":{"datum":29.07,"type":"quantitative"}}},
{"data":{"values":[{}]},"mark":{"type":"text","text":"1st Case","align":"center","baseline":"middle","dx":-45,"fontSize":19,"color":"#222"},"encoding":{"x":{"datum":2020.057,"type":"quantitative"},"y":{"datum":26.9,"type":"quantitative"}}},
{"data":{"values":[{}]},"mark":{"type":"text","text":"Policy","align":"right","baseline":"middle","dx":-4,"fontSize":19,"color":"#222"},"encoding":{"x":{"datum":2020.669,"type":"quantitative"},"y":{"datum":-2.38,"type":"quantitative"}}},
{"data":{"values":[{}]},"mark":{"type":"text","text":"Change","align":"right","baseline":"middle","dx":-4,"fontSize":19,"color":"#222"},"encoding":{"x":{"datum":2020.669,"type":"quantitative"},"y":{"datum":-4.66,"type":"quantitative"}}},
{"data":{"values":[{}]},"mark":{"type":"text","text":"Male","align":"left","baseline":"middle","dx":1,"fontSize":19,"color":"#222"},"encoding":{"x":{"datum":2014.946,"type":"quantitative"},"y":{"datum":11.44,"type":"quantitative"}}},
{"data":{"values":[{}]},"mark":{"type":"text","text":"Female","align":"left","baseline":"middle","dx":1,"fontSize":19,"color":"#222"},"encoding":{"x":{"datum":2014.946,"type":"quantitative"},"y":{"datum":-1.83,"type":"quantitative"}}}
]
}
]
}
